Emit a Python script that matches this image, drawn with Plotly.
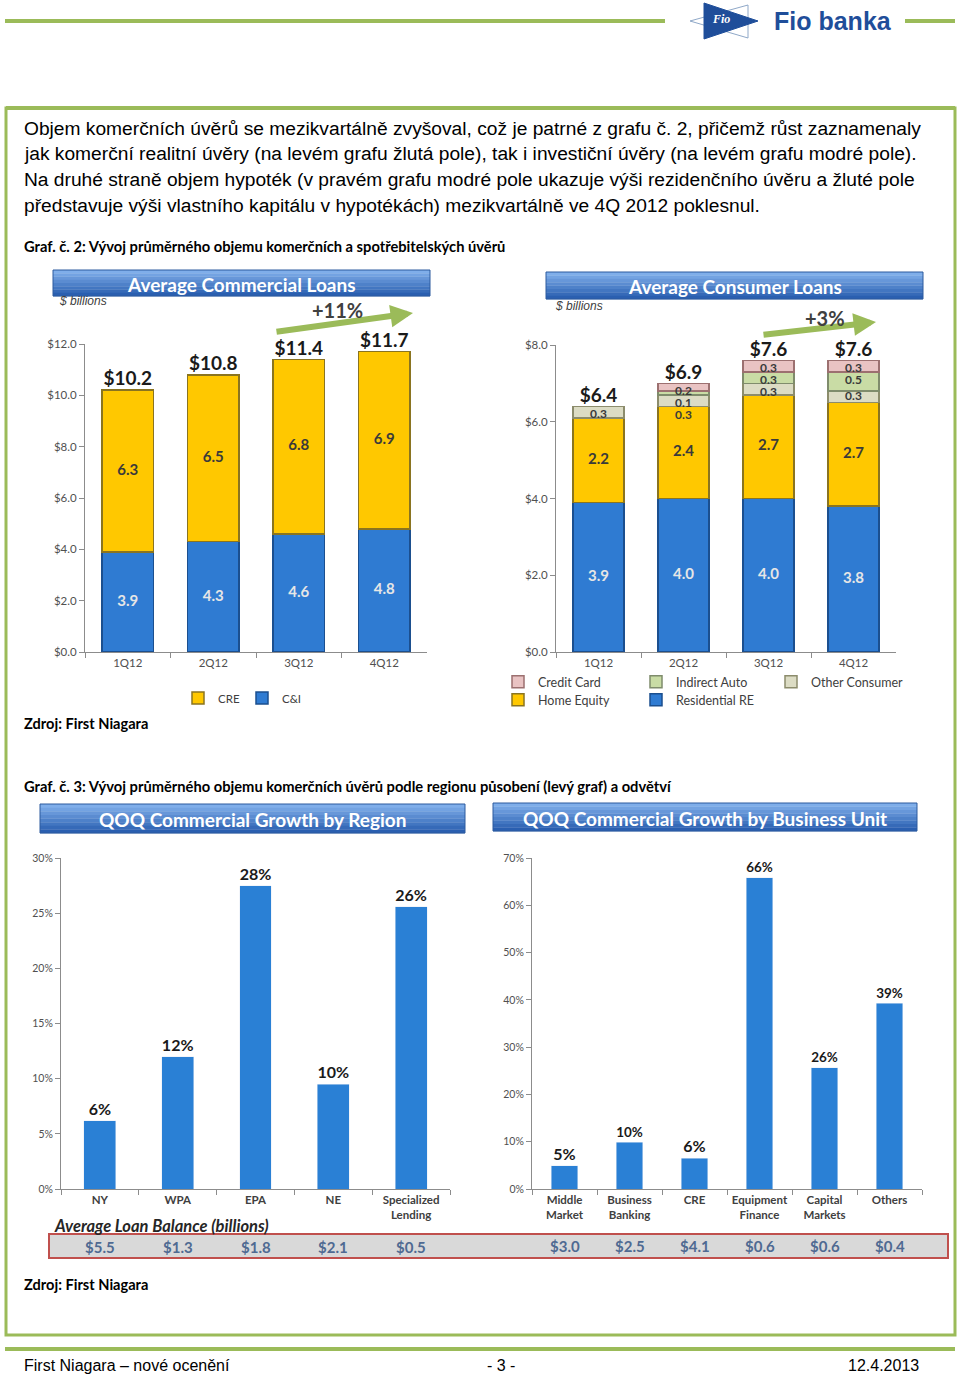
import plotly.graph_objects as go

W, H = 960, 1378
def X(p): return p / W
def Y(p): return 1 - p / H

# ---------------- DATA ----------------
quarters = ["1Q12", "2Q12", "3Q12", "4Q12"]
ci_loans = [3.9, 4.3, 4.6, 4.8]
cre_loans = [6.3, 6.5, 6.8, 6.9]
commercial_totals = ["$10.2", "$10.8", "$11.4", "$11.7"]

residential_re = [3.9, 4.0, 4.0, 3.8]
home_equity = [2.2, 2.4, 2.7, 2.7]
other_consumer = [0.3, 0.3, 0.3, 0.3]
indirect_auto = [0.0, 0.1, 0.3, 0.5]
credit_card = [0.0, 0.2, 0.3, 0.3]
consumer_totals = ["$6.4", "$6.9", "$7.6", "$7.6"]

regions = ["NY", "WPA", "EPA", "NE", "Specialized<br>Lending"]
region_growth = [6.2, 12.0, 27.5, 9.5, 25.6]
region_labels = ["6%", "12%", "28%", "10%", "26%"]
region_balance = ["$5.5", "$1.3", "$1.8", "$2.1", "$0.5"]

units = ["Middle<br>Market", "Business<br>Banking", "CRE", "Equipment<br>Finance",
         "Capital<br>Markets", "Others"]
unit_growth = [4.9, 9.9, 6.5, 65.8, 25.6, 39.3]
unit_labels = ["5%", "10%", "6%", "66%", "26%", "39%"]
unit_balance = ["$3.0", "$2.5", "$4.1", "$0.6", "$0.6", "$0.4"]

paragraph = [
    "Objem komerčních úvěrů se mezikvartálně zvyšoval, což je patrné z grafu č. 2, přičemž růst zaznamenaly",
    "jak komerční realitní úvěry (na levém grafu žlutá pole), tak i investiční úvěry (na levém grafu modré pole).",
    "Na druhé straně objem hypoték (v pravém grafu modré pole ukazuje výši rezidenčního úvěru a žluté pole",
    "představuje výši vlastního kapitálu v hypotékách) mezikvartálně ve 4Q 2012 poklesnul.",
]

# ---------------- STYLE ----------------
GREEN = "#9BBB59"
BLUE = "#2F7BD2"; BLUE_EDGE = "#1B4F8F"
YELLOW = "#FFC800"; YELLOW_EDGE = "#8A7420"
OTHER_C = "#DCDCC4"; AUTO_C = "#C9DCA5"; CARD_C = "#E9C3C3"
FLAT_BLUE = "#2A80D5"
TXT = "Liberation Sans"
CAL = "Lato"

fig = go.Figure()

def nz(vals):
    return [v if v else None for v in vals]

def stack_bar(x, vals, name, color, edge, xa, ya, legend):
    fig.add_bar(x=x, y=nz(vals), name=name, width=0.6,
                marker=dict(color=color, line=dict(color=edge, width=1.5)),
                xaxis=xa, yaxis=ya, legend=legend, hoverinfo="skip")

def label_trace(xs, ys, ts, xa, ya, color, size):
    fig.add_scatter(x=xs, y=ys, text=ts, mode="text", xaxis=xa, yaxis=ya,
                    textfont=dict(family=CAL, size=size, color=color, weight="bold"),
                    showlegend=False, hoverinfo="skip", cliponaxis=False)

def seg_labels(x, bases, vals, xa, ya, color, size):
    xs, ys, ts = [], [], []
    for xi, b, v in zip(x, bases, vals):
        if v:
            xs.append(xi); ys.append(b + v / 2); ts.append(f"{v:.1f}")
    label_trace(xs, ys, ts, xa, ya, color, size)

# ---- Chart 1: Average Commercial Loans ----
stack_bar(quarters, ci_loans, "C&I", BLUE, BLUE_EDGE, "x", "y", "legend2")
stack_bar(quarters, cre_loans, "CRE", YELLOW, YELLOW_EDGE, "x", "y", "legend")
seg_labels(quarters, [0] * 4, ci_loans, "x", "y", "#E6E6E6", 15)
seg_labels(quarters, ci_loans, cre_loans, "x", "y", "#3A3A3A", 15)
tot1 = [a + b for a, b in zip(ci_loans, cre_loans)]
fig.add_scatter(x=quarters, y=tot1, text=commercial_totals, mode="text",
                textposition="top center", xaxis="x", yaxis="y",
                textfont=dict(family=CAL, size=19, color="#1A1A1A", weight="bold"),
                showlegend=False, hoverinfo="skip", cliponaxis=False)

# ---- Chart 2: Average Consumer Loans ----
big_layers = [
    (residential_re, "Residential RE", BLUE, BLUE_EDGE, "legend7", "#E6E6E6"),
    (home_equity, "Home Equity", YELLOW, YELLOW_EDGE, "legend6", "#3A3A3A"),
]
small_layers = [
    (other_consumer, "Other Consumer", OTHER_C, "#8C8C6C", "legend5"),
    (indirect_auto, "Indirect Auto", AUTO_C, "#7F8C6C", "legend4"),
    (credit_card, "Credit Card", CARD_C, "#9C7070", "legend3"),
]
base = [0.0] * 4
for vals, name, col, edge, lg, tcol in big_layers:
    stack_bar(quarters, vals, name, col, edge, "x2", "y2", lg)
    seg_labels(quarters, base, vals, "x2", "y2", tcol, 15)
    base = [b + v for b, v in zip(base, vals)]
small_mids = [[] for _ in quarters]
for vals, name, col, edge, lg in small_layers:
    stack_bar(quarters, vals, name, col, edge, "x2", "y2", lg)
    for i, v in enumerate(vals):
        if v:
            small_mids[i].append((base[i] + v / 2, f"{v:.1f}"))
    base = [b + v for b, v in zip(base, vals)]
# spread the small-segment labels downward so they do not collide
MIN_GAP = 0.32
sx, sy, st = [], [], []
for q, mids, top in zip(quarters, small_mids, base):
    prev = top + 0.1
    for y, t in reversed(mids):
        y = min(y, prev - MIN_GAP)
        prev = y
        sx.append(q); sy.append(y); st.append(t)
label_trace(sx, sy, st, "x2", "y2", "#3A3A3A", 12)
fig.add_scatter(x=quarters, y=base, text=consumer_totals, mode="text",
                textposition="top center", xaxis="x2", yaxis="y2",
                textfont=dict(family=CAL, size=19, color="#1A1A1A", weight="bold"),
                showlegend=False, hoverinfo="skip", cliponaxis=False)

# ---- Chart 3: QOQ by region ----
fig.add_bar(x=regions, y=region_growth, text=region_labels, textposition="outside",
            width=0.41, marker=dict(color=FLAT_BLUE), xaxis="x3", yaxis="y3",
            textfont=dict(family=CAL, size=16, color="#1A1A1A", weight="bold"),
            cliponaxis=False, showlegend=False, hoverinfo="skip")

# ---- Chart 4: QOQ by business unit ----
fig.add_bar(x=units, y=unit_growth, text=unit_labels, textposition="outside",
            width=0.41, marker=dict(color=FLAT_BLUE), xaxis="x4", yaxis="y4",
            textfont=dict(family=CAL, size=16, color="#1A1A1A", weight="bold"),
            cliponaxis=False, showlegend=False, hoverinfo="skip")

# ---------------- AXES ----------------
def xax(d0, d1, anchor, size=11, color="#505050", bold=False):
    return dict(domain=[X(d0), X(d1)], anchor=anchor, type="category",
                showline=True, linecolor="#8C8C8C", linewidth=1, tickangle=0,
                ticks="outside", ticklen=5, tickcolor="#8C8C8C", tickson="boundaries",
                showgrid=False, zeroline=False, fixedrange=True,
                tickfont=dict(family=CAL, size=size, color=color,
                              weight="bold" if bold else "normal"))

def yax(top, bot, anchor, rng, dtick, prefix="", suffix="", fmt="", size=10):
    return dict(domain=[Y(bot), Y(top)], anchor=anchor, range=rng, dtick=dtick,
                tick0=0, showline=True, linecolor="#8C8C8C", linewidth=1,
                ticks="outside", ticklen=5, tickcolor="#8C8C8C",
                tickprefix=prefix, ticksuffix=suffix, tickformat=fmt,
                showgrid=False, zeroline=False, fixedrange=True,
                tickfont=dict(family=CAL, size=size, color="#505050"))

layout_axes = dict(
    xaxis=xax(85, 427, "y", size=11.5),
    yaxis=yax(344, 652, "x", [0, 12], 2, prefix="$", fmt=".1f", size=11.5),
    xaxis2=xax(556, 896, "y2", size=11.5),
    yaxis2=yax(345, 652, "x2", [0, 8], 2, prefix="$", fmt=".1f", size=11.5),
    xaxis3=xax(61, 450, "y3", size=11.5, color="#404040", bold=True),
    yaxis3=yax(858, 1189, "x3", [0, 30], 5, suffix="%", size=10.5),
    xaxis4=xax(532, 922, "y4", size=11.5, color="#404040", bold=True),
    yaxis4=yax(858, 1189, "x4", [0, 70], 10, suffix="%", size=10.5),
)

# ---------------- LEGENDS ----------------
def leg(text_x, y, size=11):
    return dict(x=X(text_x - 40), y=Y(y), xanchor="left", yanchor="middle",
                bgcolor="rgba(0,0,0,0)", itemwidth=30, orientation="h",
                font=dict(family=CAL, size=size, color="#404040"),
                itemclick=False, itemdoubleclick=False)

legends = dict(
    legend=leg(218, 698, 11.5),
    legend2=leg(282, 698, 11.5),
    legend3=leg(538, 682, 12.5),
    legend4=leg(676, 682, 12.5),
    legend5=leg(811, 682, 12.5),
    legend6=leg(538, 700, 12.5),
    legend7=leg(676, 700, 12.5),
)

# ---------------- SHAPES & ANNOTATIONS ----------------
shapes = []
annotations = []

def hline(x0, x1, y, w, color=GREEN):
    shapes.append(dict(type="line", xref="paper", yref="paper", x0=X(x0), x1=X(x1),
                       y0=Y(y), y1=Y(y), line=dict(color=color, width=w)))

def text(x, y, s, size, color="#000000", family=TXT, xanchor="left", bold=False,
         italic=False):
    if bold:
        s = f"<b>{s}</b>"
    if italic:
        s = f"<i>{s}</i>"
    annotations.append(dict(x=X(x), y=Y(y), xref="paper", yref="paper", text=s,
                            showarrow=False, xanchor=xanchor, yanchor="middle",
                            font=dict(family=family, size=size, color=color)))

def lerp_color(c1, c2, t):
    a = [int(c1[i:i + 2], 16) for i in (1, 3, 5)]
    b = [int(c2[i:i + 2], 16) for i in (1, 3, 5)]
    return "#" + "".join(f"{round(p + (q - p) * t):02x}" for p, q in zip(a, b))

def banner(x0, x1, y0, y1, label):
    n = 8
    hh = (y1 - y0) / n
    for i in range(n):
        col = lerp_color("#7FAEEA", "#2A5FB0", i / (n - 1))
        shapes.append(dict(type="rect", xref="paper", yref="paper", x0=X(x0), x1=X(x1),
                           y0=Y(y0 + (i + 1) * hh + 0.3), y1=Y(y0 + i * hh),
                           fillcolor=col, line=dict(width=0)))
    shapes.append(dict(type="rect", xref="paper", yref="paper", x0=X(x0), x1=X(x1),
                       y0=Y(y1), y1=Y(y0), line=dict(color="#2C5A9E", width=1)))
    text((x0 + x1) / 2, (y0 + y1) / 2 + 1, label, 19, "#FFFFFF", CAL, "center", bold=True)

# header
hline(5, 665, 21, 4)
hline(905, 955, 21, 4)
def path(pts):
    return "M " + " L ".join(f"{X(a)},{Y(b)}" for a, b in pts) + " Z"
shapes.append(dict(type="path", xref="paper", yref="paper",
                   path=path([(748, 5), (748, 38), (690, 21)]),
                   line=dict(color="#8FA8C8", width=1), fillcolor="rgba(0,0,0,0)"))
shapes.append(dict(type="path", xref="paper", yref="paper",
                   path=path([(704, 3), (704, 39), (758, 21)]),
                   line=dict(color="#1F4E9A", width=1), fillcolor="#1F4E9A"))
text(721, 19, "Fio", 12, "#FFFFFF", "Liberation Serif", "center", bold=True, italic=True)
text(772, 21, "Fio banka", 25, "#1F4E9A", TXT, "left", bold=True)

# content box
shapes.append(dict(type="rect", xref="paper", yref="paper", x0=X(6), x1=X(955),
                   y0=Y(1335), y1=Y(108), line=dict(color=GREEN, width=3)))
hline(6, 955, 108, 4)
hline(5, 955, 1349, 4)

# paragraph
for i, line in enumerate(paragraph):
    text(22, 128 + i * 25.8, line, 19.2, "#000000", TXT)

text(22, 246, "Graf. č. 2: Vývoj průměrného objemu komerčních a spotřebitelských úvěrů",
     14.7, "#000000", CAL, bold=True)
text(22, 723, "Zdroj: First Niagara", 14.6, "#000000", CAL, bold=True)
text(22, 786, "Graf. č. 3: Vývoj průměrného objemu komerčních úvěrů podle regionu působení (levý graf) a odvětví",
     14.7, "#000000", CAL, bold=True)
text(22, 1284, "Zdroj: First Niagara", 14.6, "#000000", CAL, bold=True)

# banners
banner(53, 430, 270, 296, "Average Commercial Loans")
banner(546, 923, 272, 299, "Average Consumer Loans")
banner(40, 465, 804, 833, "QOQ Commercial Growth by Region")
banner(493, 917, 803, 831, "QOQ Commercial Growth by Business Unit")

text(57, 301, "$ billions", 12, "#404040", TXT, italic=True)
text(553, 306, "$ billions", 12, "#404040", TXT, italic=True)

# growth arrows
for tip, dx, dy, lbl, lx, ly in [((413, 313), -138, 19, "+11%", 337, 310),
                                 ((876, 322), -114, 13, "+3%", 825, 318)]:
    annotations.append(dict(x=X(tip[0]), y=Y(tip[1]), xref="paper", yref="paper",
                            ax=dx, ay=dy, showarrow=True, arrowhead=2, arrowsize=0.75,
                            arrowwidth=6, arrowcolor=GREEN, text=""))
    text(lx, ly, lbl, 20, "#404040", CAL, "center", bold=True)

# average loan balance strip
text(52, 1226, "Average Loan Balance (billions)", 16.5, "#262626", CAL, bold=True, italic=True)
shapes.append(dict(type="rect", xref="paper", yref="paper", x0=X(49), x1=X(948),
                   y0=Y(1258), y1=Y(1234), fillcolor="#D9D9D9",
                   line=dict(color="#C0504D", width=2)))
for i, v in enumerate(region_balance):
    annotations.append(dict(x=i, y=Y(1247), xref="x3", yref="paper", text=f"<b>{v}</b>",
                            showarrow=False, xanchor="center", yanchor="middle",
                            font=dict(family=CAL, size=15, color="#4F6A92")))
for i, v in enumerate(unit_balance):
    annotations.append(dict(x=i, y=Y(1246), xref="x4", yref="paper", text=f"<b>{v}</b>",
                            showarrow=False, xanchor="center", yanchor="middle",
                            font=dict(family=CAL, size=15, color="#4F6A92")))

# footer
text(22, 1365, "First Niagara – nové ocenění", 16, "#000000", TXT)
text(501, 1365, "- 3 -", 16, "#000000", TXT, "center")
text(921, 1365, "12.4.2013", 16, "#000000", TXT, "right")

fig.update_layout(
    width=W, height=H, margin=dict(l=0, r=0, t=0, b=0, autoexpand=False),
    paper_bgcolor="#FFFFFF", plot_bgcolor="rgba(0,0,0,0)",
    barmode="stack", showlegend=True,
    shapes=shapes, annotations=annotations,
    **layout_axes, **legends,
)

fig.write_html(
    "out.html",
    config={"displayModeBar": False},
    post_script="document.body.style.margin='0';document.body.style.overflow='hidden';"
                "document.documentElement.style.overflow='hidden';",
)
